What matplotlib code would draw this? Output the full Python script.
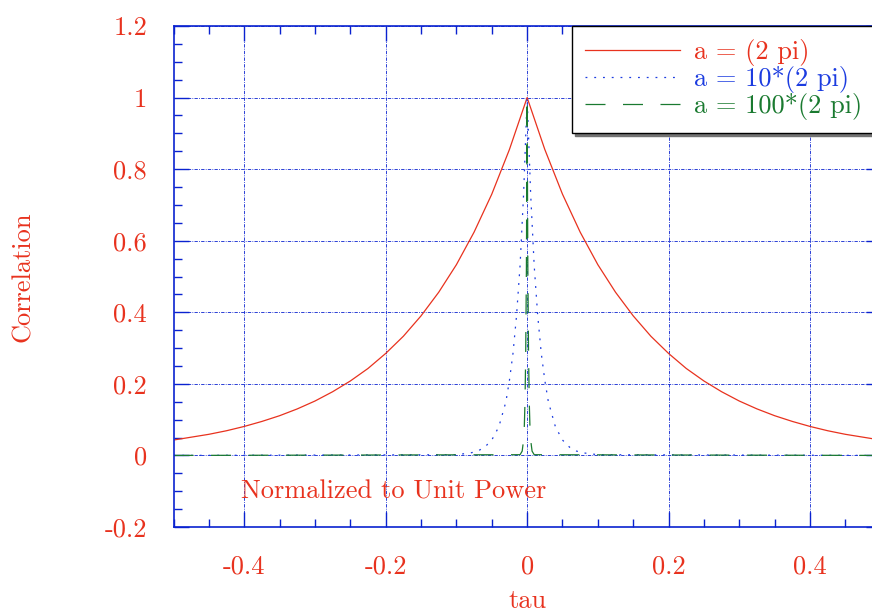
import matplotlib
matplotlib.use("Agg")
import matplotlib.pyplot as plt
import numpy as np

# ---- data ----
tau_red = [-0.5, -0.475, -0.45, -0.425, -0.4, -0.375, -0.35, -0.325, -0.3, -0.275, -0.25,
           -0.225, -0.2, -0.175, -0.15, -0.125, -0.1, -0.075, -0.05, -0.025, 0.0,
           0.025, 0.05, 0.075, 0.1, 0.125, 0.15, 0.175, 0.2, 0.225, 0.25,
           0.275, 0.3, 0.325, 0.35, 0.375, 0.4, 0.425, 0.45, 0.475, 0.5]
corr_red = [0.043, 0.051, 0.059, 0.069, 0.081, 0.095, 0.111, 0.130, 0.152, 0.178, 0.208,
            0.243, 0.285, 0.333, 0.390, 0.456, 0.533, 0.624, 0.730, 0.855, 1.0,
            0.855, 0.730, 0.624, 0.533, 0.456, 0.390, 0.333, 0.285, 0.243, 0.208,
            0.178, 0.152, 0.130, 0.111, 0.095, 0.081, 0.069, 0.059, 0.051, 0.043]

tau_blue = [-0.5, -0.1, -0.08, -0.07, -0.06, -0.05, -0.04, -0.03, -0.025, -0.02, -0.015,
            -0.01, -0.005, 0.0, 0.005, 0.01, 0.015, 0.02, 0.025, 0.03, 0.04, 0.05,
            0.06, 0.07, 0.08, 0.1, 0.5]
corr_blue = [0.0, 0.002, 0.007, 0.012, 0.023, 0.043, 0.08, 0.15, 0.21, 0.285, 0.39,
             0.53, 0.73, 1.0, 0.73, 0.53, 0.39, 0.285, 0.21, 0.15, 0.08, 0.043,
             0.023, 0.012, 0.007, 0.002, 0.0]

tau_green = [-0.5, -0.01, -0.007, -0.005, -0.004, -0.003, -0.002, -0.001, 0.0,
             0.001, 0.002, 0.003, 0.004, 0.005, 0.007, 0.01, 0.5]
corr_green = [0.0, 0.002, 0.012, 0.043, 0.08, 0.15, 0.285, 0.53, 1.0,
              0.53, 0.285, 0.15, 0.08, 0.043, 0.012, 0.002, 0.0]

labels = ["a = (2 pi)", "a = 10*(2 pi)", "a = 100*(2 pi)"]
xticks = [-0.4, -0.2, 0.0, 0.2, 0.4]
xticklabels = ["-0.4", "-0.2", "0", "0.2", "0.4"]
yticks = [-0.2, 0.0, 0.2, 0.4, 0.6, 0.8, 1.0, 1.2]
yticklabels = ["-0.2", "0", "0.2", "0.4", "0.6", "0.8", "1", "1.2"]

RED = "#e8321e"
BLUE = "#1c3ce0"
GREEN = "#1a7a30"
AX = "#0a22d0"
FS = 19

plt.rcParams["font.family"] = ["cmr10", "DejaVu Serif"]
plt.rcParams["axes.unicode_minus"] = False
plt.rcParams["mathtext.fontset"] = "cm"

fig = plt.figure(figsize=(8.72, 6.13), dpi=100)
W, H = 872, 613
ax = fig.add_axes([173.5 / W, 1 - 527 / H, 707.25 / W, 501 / H])

ax.plot(tau_red, corr_red, color=RED, lw=0.9, label=labels[0])
ax.plot(tau_blue, corr_blue, color=BLUE, lw=0.9, linestyle=(0, (1.5, 5.5)), label=labels[1])
ax.plot(tau_green, corr_green, color=GREEN, lw=0.9, linestyle=(0, (16, 14)), label=labels[2])

ax.set_xlim(-0.5, 0.5)
ax.set_ylim(-0.2, 1.2)
ax.set_xticks(xticks)
ax.set_xticklabels(xticklabels)
ax.set_yticks(yticks)
ax.set_yticklabels(yticklabels)
ax.set_xticks(np.arange(-0.5, 0.51, 0.05), minor=True)
ax.set_yticks(np.arange(-0.2, 1.21, 0.05), minor=True)

ax.grid(True, which="major", color=AX, linestyle=(0, (4, 1.5, 1, 1.5)), lw=0.6)
ax.tick_params(which="both", direction="in", top=True, right=True, colors=AX,
               labelcolor=RED, labelsize=FS)
ax.tick_params(which="major", length=11, width=1)
ax.tick_params(which="minor", length=6, width=1)
ax.tick_params(axis="y", pad=19)
ax.tick_params(axis="x", pad=20)
for s in ax.spines.values():
    s.set_color(AX)
    s.set_linewidth(1.2)

ax.set_xlabel("tau", color=RED, fontsize=FS, labelpad=8)
ax.set_ylabel("Correlation", color=RED, fontsize=FS, labelpad=50)

ax.text(-0.405, -0.1, "Normalized to Unit Power", color=RED, fontsize=FS, va="center", ha="left")

leg = ax.legend(loc="upper left", bbox_to_anchor=(572 / W, 1 - 26 / H), bbox_transform=fig.transFigure,
                borderaxespad=0, fontsize=FS, handlelength=3.6, handletextpad=0.53,
                labelspacing=0.0, borderpad=0.5, fancybox=False, framealpha=1,
                edgecolor="black", shadow={"color": "0.45", "alpha": 1})
leg.get_frame().set_linewidth(1.0)
for t, c in zip(leg.get_texts(), [RED, BLUE, GREEN]):
    t.set_color(c)

fig.savefig("out.png", dpi=100)
